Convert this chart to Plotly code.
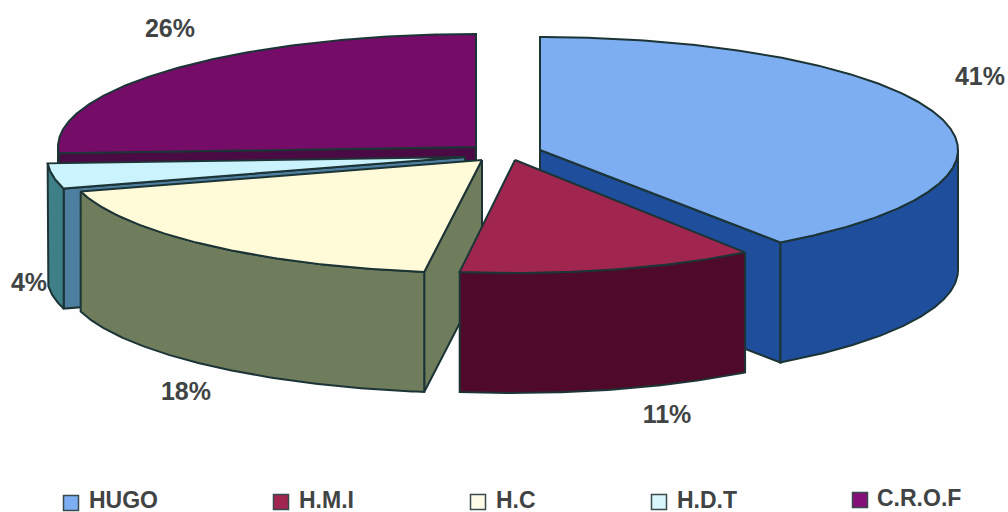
import math
import plotly.graph_objects as go

categories = ["HUGO", "H.M.I", "H.C", "H.D.T", "C.R.O.F"]
values = [41, 11, 18, 4, 26]

top_colors = ["#7DAEF2", "#A02650", "#FFFBD8", "#CBF3FD", "#750C68"]
wall_colors = ["#1F4F9C", "#4E0A28", "#6F7D5C", "#3F7F88", "#4A0A44"]
cut_colors = ["#1F4F9C", "#4E0A28", "#6F7D5C", "#4F7FA0", "#4A0A44"]
legend_fill = ["#7DAEF2", "#A02650", "#FFFDE8", "#D8F6FC", "#851078"]

apexes = [(540, 150), (515, 160), (482, 160), (465, 157), (476, 147)]
radius_x = [418, 400, 418, 418, 418]
label_pos = [(980, 79), (667, 417), (186, 394), (29, 285), (170, 31)]
legend_marker_x = [71, 281, 478, 659, 860]
legend_text_x = [89, 299, 496, 677, 877]
legend_y = [502, 502, 502, 502, 500]
legend_marker_y = [503, 502, 502, 502, 500]

RY, DEPTH = 113, 120
VIEW_SKEW = 3
EDGE = "#1C3436"
FONT = "Liberation Sans"
TXT = "#414444"


def project(i, deg, drop=0):
    a = math.radians(deg + VIEW_SKEW * math.sin(math.radians(2 * deg)))
    return apexes[i][0] + radius_x[i] * math.sin(a), apexes[i][1] - RY * math.cos(a) + drop


def arc(i, start, end, drop=0):
    n = max(2, int(abs(end - start)) * 2)
    return [project(i, start + (end - start) * k / n, drop) for k in range(n + 1)]


fig = go.Figure()


def poly(points, color, name):
    xs = [p[0] for p in points] + [points[0][0]]
    ys = [p[1] for p in points] + [points[0][1]]
    fig.add_trace(go.Scatter(x=xs, y=ys, mode="lines", fill="toself", fillcolor=color,
                             line=dict(color=EDGE, width=2), name=name,
                             hoverinfo="name", showlegend=False))


total = sum(values)
spans = []
cum = 0
for v in values:
    spans.append((cum * 360 / total, (cum + v) * 360 / total))
    cum += v

for i in [4, 3, 2, 0, 1]:
    s, e = spans[i]
    ap = apexes[i]
    name = categories[i]
    if math.sin(math.radians(s)) < 0:
        r = project(i, s)
        poly([ap, r, (r[0], r[1] + DEPTH), (ap[0], ap[1] + DEPTH)], cut_colors[i], name)
    if math.sin(math.radians(e)) > 0:
        r = project(i, e)
        poly([ap, r, (r[0], r[1] + DEPTH), (ap[0], ap[1] + DEPTH)], cut_colors[i], name)
    ws, we = max(s, 90), min(e, 270)
    if we > ws:
        poly(arc(i, ws, we) + arc(i, we, ws, DEPTH), wall_colors[i], name)
    poly([ap] + arc(i, s, e), top_colors[i], name)

fig.add_trace(go.Scatter(x=[p[0] for p in label_pos], y=[p[1] for p in label_pos],
                         mode="text", text=[f"<b>{v}%</b>" for v in values],
                         textposition="middle center", cliponaxis=False,
                         textfont=dict(family=FONT, size=25, color=TXT),
                         hoverinfo="skip", showlegend=False))

fig.add_trace(go.Scatter(x=legend_marker_x, y=legend_marker_y, mode="markers",
                         marker=dict(symbol="square", size=15, color=legend_fill,
                                     line=dict(color="#3A4A4C", width=1.5)),
                         cliponaxis=False, hoverinfo="skip", showlegend=False))
fig.add_trace(go.Scatter(x=legend_text_x, y=legend_y, mode="text",
                         text=[f"<b>{c}</b>" for c in categories],
                         textposition="middle right", cliponaxis=False,
                         textfont=dict(family=FONT, size=23, color=TXT),
                         hoverinfo="skip", showlegend=False))

fig.update_layout(width=1008, height=512, margin=dict(l=0, r=0, t=0, b=0),
                  paper_bgcolor="#FEFEFE", plot_bgcolor="#FEFEFE", showlegend=False,
                  xaxis=dict(range=[0, 1008], visible=False, fixedrange=True),
                  yaxis=dict(range=[512, 0], visible=False, fixedrange=True))
fig.write_html("out.html", config=dict(displayModeBar=False),
               post_script="document.body.style.margin='0';document.body.style.overflow='hidden';")
